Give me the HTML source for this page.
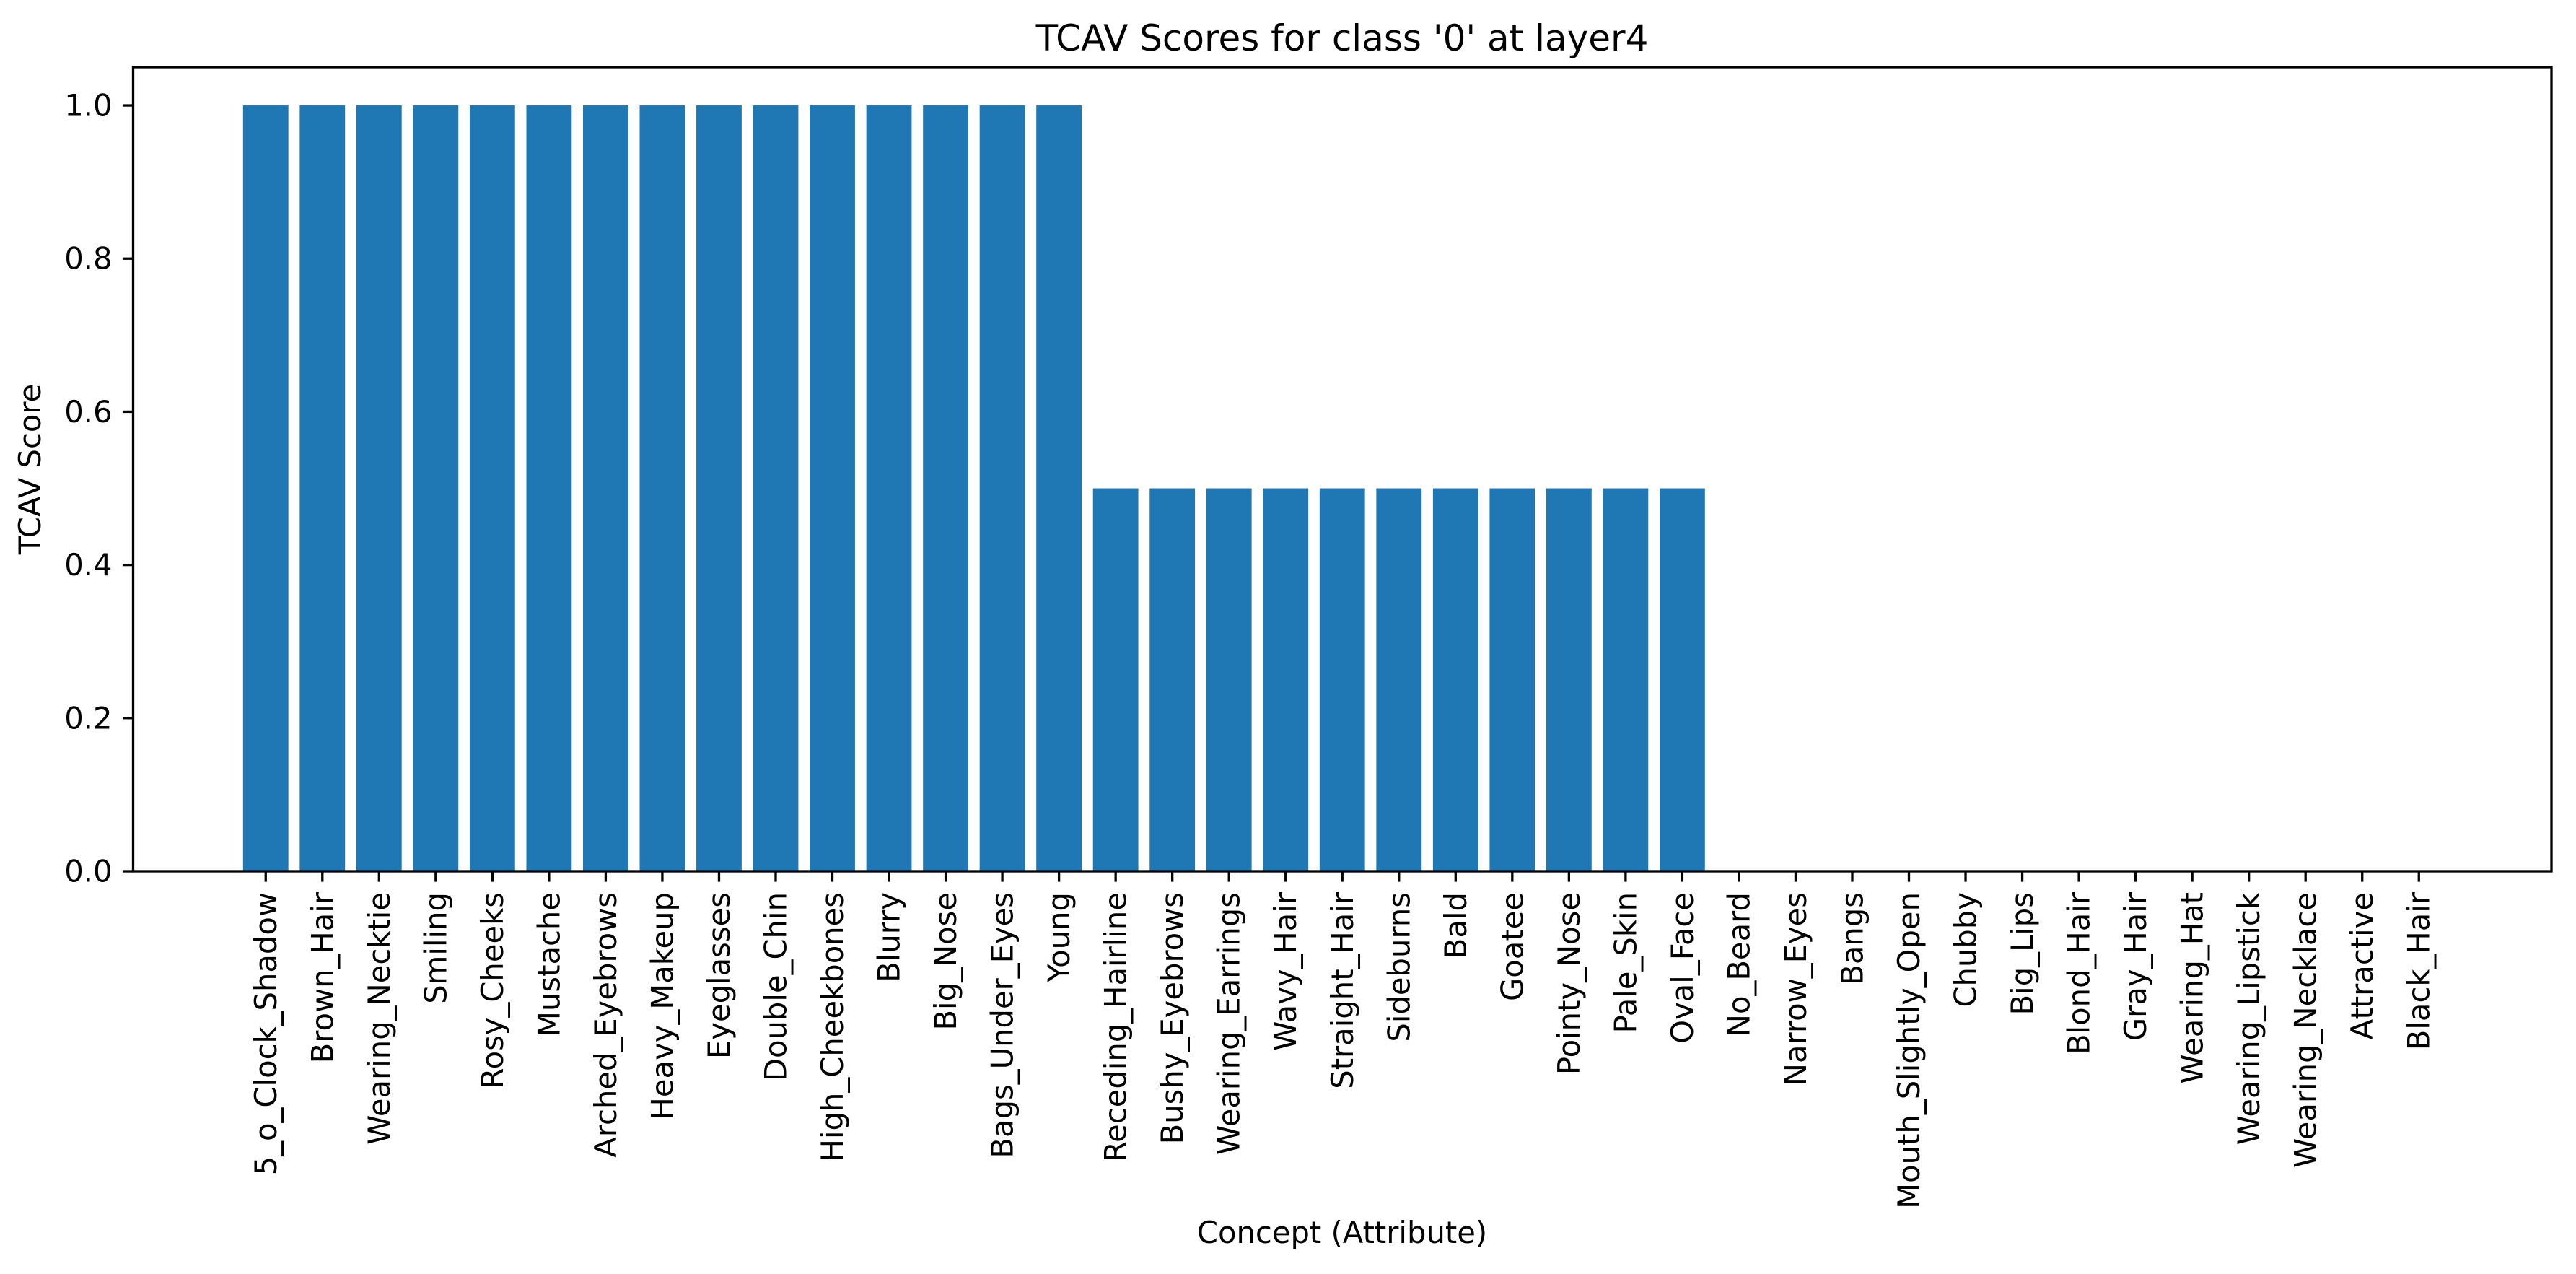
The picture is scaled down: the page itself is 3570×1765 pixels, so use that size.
<!DOCTYPE html>
<html><head><meta charset="utf-8"><style>
html,body{margin:0;padding:0;background:#fff;}
svg{display:block;font-family:"DejaVu Sans","Liberation Sans",sans-serif;}
</style></head><body>
<svg id="chart" width="3570" height="1765" viewBox="0 0 3570 1765" xmlns="http://www.w3.org/2000/svg">
<rect width="3570" height="1765" fill="#fff"/>
<text x="1860" y="70" font-size="50" text-anchor="middle">TCAV Scores for class '0' at layer4</text>
<text transform="translate(56,650) rotate(-90)" font-size="41.7" text-anchor="middle">TCAV Score</text>
<text x="1860" y="1722" font-size="41.7" text-anchor="middle">Concept (Attribute)</text>
<g id="bars"></g><g id="yticks"></g><g id="xticks"></g>
<rect x="184.5" y="93" width="3351.5" height="1114" fill="none" stroke="#000" stroke-width="3.3"/>
</svg>
<script>
const categories = ["5_o_Clock_Shadow","Brown_Hair","Wearing_Necktie","Smiling","Rosy_Cheeks","Mustache","Arched_Eyebrows","Heavy_Makeup","Eyeglasses","Double_Chin","High_Cheekbones","Blurry","Big_Nose","Bags_Under_Eyes","Young","Receding_Hairline","Bushy_Eyebrows","Wearing_Earrings","Wavy_Hair","Straight_Hair","Sideburns","Bald","Goatee","Pointy_Nose","Pale_Skin","Oval_Face","No_Beard","Narrow_Eyes","Bangs","Mouth_Slightly_Open","Chubby","Big_Lips","Blond_Hair","Gray_Hair","Wearing_Hat","Wearing_Lipstick","Wearing_Necklace","Attractive","Black_Hair"];
const scores = [1,1,1,1,1,1,1,1,1,1,1,1,1,1,1,0.5,0.5,0.5,0.5,0.5,0.5,0.5,0.5,0.5,0.5,0.5,0,0,0,0,0,0,0,0,0,0,0,0,0];
const yTicks = [0,0.2,0.4,0.6,0.8,1.0];
const yTickLabels = ["0.0","0.2","0.4","0.6","0.8","1.0"];

const NS="http://www.w3.org/2000/svg";
const L=184.5,R=3536,T=93,B=1207;
const xmin=-2.34,xmax=categories.length-1+2.34,ymax=1.05;
const xs=v=>L+(v-xmin)/(xmax-xmin)*(R-L);
const ys=v=>B-v/ymax*(B-T);
const bw=0.8*(R-L)/(xmax-xmin);
function mk(tag,attrs,parent){const e=document.createElementNS(NS,tag);for(const k in attrs)e.setAttribute(k,attrs[k]);parent.appendChild(e);return e;}
const gb=document.getElementById('bars'),gy=document.getElementById('yticks'),gx=document.getElementById('xticks');
categories.forEach((c,i)=>{
  const cx=xs(i),y=ys(scores[i]);
  const r=mk('rect',{x:cx-bw/2,y:y,width:bw,height:B-y,fill:'#1f77b4'},gb);
  
  
  const t=mk('line',{x1:cx,x2:cx,y1:B,y2:B+14.6,stroke:'#000','stroke-width':3.3},gx);
  
  
  const lb=mk('text',{transform:`translate(${cx},1236) rotate(-90)`,'font-size':41.7,'text-anchor':'end','dominant-baseline':'central'},gx);
  lb.textContent=c;
  
  
});
yTicks.forEach((v,i)=>{
  const y=ys(v);
  const t=mk('line',{x1:L-14.6,x2:L,y1:y,y2:y,stroke:'#000','stroke-width':3.3},gy);
  
  
  const lb=mk('text',{x:L-29,y:y,'font-size':41.7,'text-anchor':'end','dominant-baseline':'central'},gy);
  lb.textContent=yTickLabels[i];
  
  
});
</script>
</body></html>
